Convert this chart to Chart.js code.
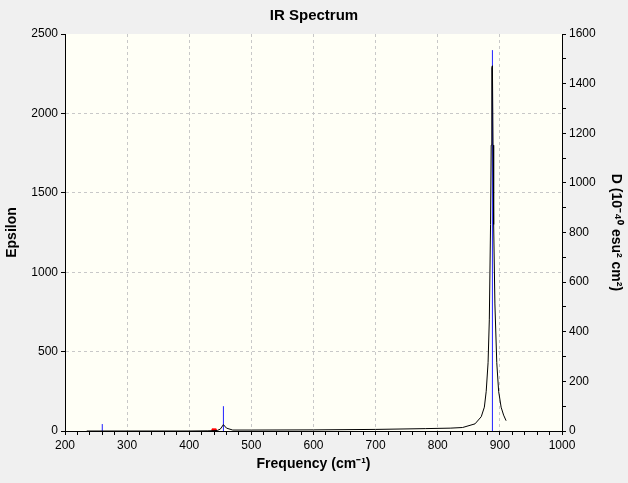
<!DOCTYPE html><html><head><script src="https://cdn.jsdelivr.net/npm/chart.js@4"></script>
<style>html,body{margin:0;background:#f0f0f0}#w{width:628px;height:483px}</style></head><body><div id="w"><canvas id="c"></canvas></div>
<script>
const specX=[235,300,400,430,445,450,455,460,470,500,600,700,780,820,840,860,870,875,878,881,883,885,886,887,888,889,890,892,895,898,902,906,910];
const specY=[0,0,0,1,3,12,40,18,6,6,7,10,15,18,22,45,90,150,250,430,700,1300,1800,2290,2300,1800,1300,800,430,250,150,100,65];
const stickX=[260,455,888];
const stickY=[28,100,1535];
const markX=[440];
const spec=specX.map((x,i)=>({x,y:specY[i]}));
const sticks=[];stickX.forEach((x,i)=>{sticks.push({x,y:0},{x,y:stickY[i]},{x,y:null});});
const font={family:'Liberation Sans',size:12};
new Chart(document.getElementById('c'),{type:'scatter',
data:{datasets:[
{data:spec,showLine:true,borderColor:'#000',borderWidth:1,pointRadius:0,yAxisID:'y'},
{data:sticks,showLine:true,spanGaps:false,borderColor:'#2020ff',borderWidth:1,pointRadius:0,yAxisID:'y2'},
{data:markX.map(x=>({x,y:0})),pointStyle:'rect',pointRadius:3,backgroundColor:'#ff0000',borderColor:'#ff0000',yAxisID:'y'}]},
options:{animation:false,responsive:true,maintainAspectRatio:false,
layout:{padding:{top:0,right:0,bottom:6,left:0}},
plugins:{legend:{display:false},tooltip:{enabled:false},
title:{display:true,text:'IR Spectrum',color:'#000',font:{family:'Liberation Sans',size:15,weight:'bold'},padding:{top:7,bottom:9}}},
scales:{
x:{type:'linear',min:200,max:1000,afterFit:s=>{s.height=46},
ticks:{stepSize:20,color:'#000',font,maxRotation:0,autoSkip:false,callback:v=>v%100===0?String(v):''},
grid:{color:c=>c.tick&&c.tick.value%100===0&&c.tick.value>200&&c.tick.value<1000?'#c8c8c8':'rgba(0,0,0,0)',tickColor:'#000',tickLength:c=>c.tick&&c.tick.value%100===0?6:4,tickBorderDash:[]},
border:{color:'#000',dash:[3,3]},
title:{display:true,text:'Frequency (cm⁻¹)',color:'#000',font:{family:'Liberation Sans',size:14,weight:'bold'},padding:{top:0}}},
y:{position:'left',min:0,max:2500,afterFit:s=>{s.width=65},
ticks:{stepSize:500,color:'#000',font,callback:v=>String(v)},
grid:{color:c=>c.tick&&c.tick.value>0&&c.tick.value<2500?'#c8c8c8':'rgba(0,0,0,0)',tickColor:'#000',tickLength:4,tickBorderDash:[]},
border:{color:'#000',dash:[3,3]},
title:{display:true,text:'Epsilon',color:'#000',font:{family:'Liberation Sans',size:14,weight:'bold'}}},
y2:{position:'right',min:0,max:1600,afterFit:s=>{s.width=66},
ticks:{stepSize:100,color:'#000',font,autoSkip:false,callback:v=>v%200===0?String(v):''},
grid:{drawOnChartArea:false,tickColor:'#000',tickLength:c=>c.tick&&c.tick.value%200===0?6:4},
border:{color:'#000'},
title:{display:true,text:'D (10⁻⁴⁰ esu² cm²)',color:'#000',font:{family:'Liberation Sans',size:14,weight:'bold'}}}}},
plugins:[{id:'bg',beforeDraw(ch){const a=ch.chartArea,x=ch.ctx;x.save();x.fillStyle='#fffff6';x.fillRect(a.left,a.top,a.right-a.left,a.bottom-a.top);x.restore();}}]
});
</script></body></html>
